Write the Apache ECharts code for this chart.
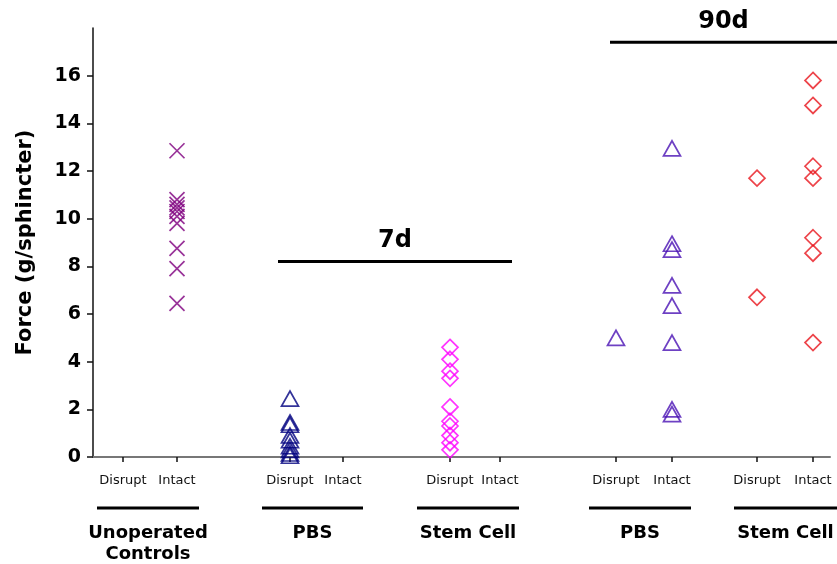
<!DOCTYPE html>
<html><head><meta charset="utf-8">
<script src="https://cdn.jsdelivr.net/npm/echarts@6/dist/echarts.min.js"></script>
<style>html,body{margin:0;padding:0;background:#fff}#c{width:837px;height:564px}</style>
</head><body><div id="c"></div>
<script>
// ---- data ----
const tickLabels = ['Disrupt','Intact','Disrupt','Intact','Disrupt','Intact','Disrupt','Intact','Disrupt','Intact'];
const groupNames = ['Unoperated\nControls','PBS','Stem Cell','PBS','Stem Cell'];
const periodNames = ['7d','90d'];
const yTicks = [0,2,4,6,8,10,12,14,16];
// values per category slot (slot index -> values)
const ctrlIntact = [12.85,10.8,10.6,10.45,10.3,10.1,9.8,8.75,7.9,6.45];
const pbs7Disrupt = [2.45,1.45,1.35,0.9,0.7,0.45,0.3,0.15,0.05];
const stem7Disrupt = [4.6,4.1,3.6,3.3,2.1,1.5,1.3,0.9,0.6,0.3];
const pbs90Disrupt = [5.0];
const pbs90Intact = [12.95,8.95,8.7,7.2,6.35,4.8,2.0,1.8];
const stem90Disrupt = [11.7,6.7];
const stem90Intact = [15.8,14.75,12.2,11.7,9.2,8.55,4.8];
const periodLevel = [8.2,17.4];

// ---- layout (x-axis units) ----
const slotX = [30,84,197,250,357,407,523,579,664,720];
const xMax = 737;
const groupLineSpan = [[4,106],[169,270],[324,426],[496,598],[641,744]];
const periodSpan = [[185,419],[517,744]];

function pts(slot, vals){ return vals.map(v => [slotX[slot], v]); }
const crossPath = 'path://M0,0L10,10M10,0L0,10';
function sc(name, data, symbol, color, size){
  return { name, type:'scatter', data, symbol, symbolSize:size, clip:false,
    itemStyle:{ color:'rgba(0,0,0,0)', borderColor:color, borderWidth:1.7 } };
}

const chart = echarts.init(document.getElementById('c'));
chart.setOption({
  animation:false,
  grid:{ left:93, right:7, top:28, bottom:107 },
  xAxis:{ type:'value', min:0, max:xMax,
    axisLine:{ lineStyle:{ color:'#777', width:2 } },
    axisTick:{ customValues:slotX, length:5, lineStyle:{ color:'#111', width:1.5 } },
    axisLabel:{ customValues:slotX, margin:17, fontSize:13, color:'#111', fontFamily:'DejaVu Sans',
      formatter:(v)=> tickLabels[slotX.indexOf(v)] || '' },
    splitLine:{ show:false } },
  yAxis:{ type:'value', min:0, max:18, interval:2,
    name:'Force (g/sphincter)', nameLocation:'middle', nameGap:57,
    nameTextStyle:{ fontSize:21, fontWeight:'bold', color:'#000', fontFamily:'DejaVu Sans' },
    axisLine:{ show:true, lineStyle:{ color:'#111', width:1.5 } },
    axisTick:{ show:true, customValues:yTicks, length:6, lineStyle:{ color:'#111', width:1.5 } },
    axisLabel:{ customValues:yTicks, margin:12, fontSize:19, fontWeight:'bold', color:'#000', fontFamily:'DejaVu Sans' },
    splitLine:{ show:false } },
  series:[
    sc('ctrl', pts(1, ctrlIntact), crossPath, '#800080', 15),
    sc('pbs7', pts(2, pbs7Disrupt), 'triangle', '#000080', [17,15]),
    sc('stem7', pts(4, stem7Disrupt), 'diamond', '#ff00ff', 16),
    sc('pbs90d', pts(6, pbs90Disrupt), 'triangle', '#4a12b4', [17,15]),
    sc('pbs90i', pts(7, pbs90Intact), 'triangle', '#4a12b4', [17,15]),
    sc('stem90d', pts(8, stem90Disrupt), 'diamond', '#e8141c', 16),
    sc('stem90i', pts(9, stem90Intact), 'diamond', '#e8141c', 16)
  ]
});

const g = [];
const px = (x,y) => chart.convertToPixel({xAxisIndex:0, yAxisIndex:0}, [x,y]);
const y0 = px(0,0)[1];
groupLineSpan.forEach((s,i)=>{
  const a = px(s[0],0), b = px(s[1],0);
  g.push({ type:'line', shape:{ x1:a[0], y1:y0+51, x2:b[0], y2:y0+51 }, style:{ stroke:'#000', lineWidth:3 } });
  g.push({ type:'text', x:(a[0]+b[0])/2, y:y0+66, style:{ text:groupNames[i], font:'bold 18px "DejaVu Sans"',
    fill:'#000', textAlign:'center', textVerticalAlign:'top', lineHeight:21 } });
});
periodSpan.forEach((s,i)=>{
  const a = px(s[0],periodLevel[i]), b = px(s[1],periodLevel[i]);
  g.push({ type:'line', shape:{ x1:a[0], y1:a[1], x2:b[0], y2:b[1] }, style:{ stroke:'#000', lineWidth:3 } });
  g.push({ type:'text', x:(a[0]+b[0])/2, y:a[1]-21, style:{ text:periodNames[i], font:'bold 24px "DejaVu Sans"',
    fill:'#000', textAlign:'center', textVerticalAlign:'middle' } });
});
chart.setOption({ graphic:g });
</script></body></html>
